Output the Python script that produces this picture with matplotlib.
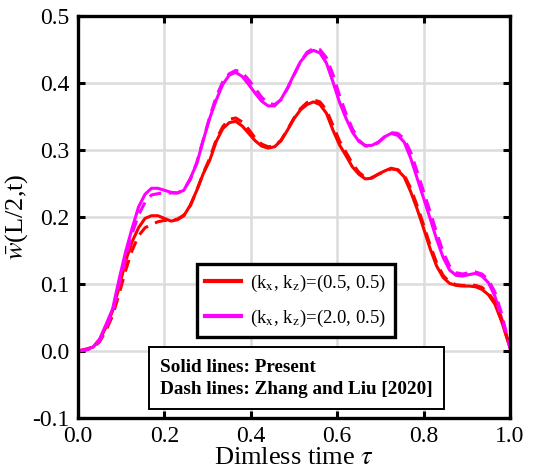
import numpy as np
import matplotlib
matplotlib.use('Agg')
import matplotlib.pyplot as plt

plt.rcParams['font.family'] = ['Liberation Serif', 'DejaVu Serif']
plt.rcParams['mathtext.fontset'] = 'stix'
plt.rcParams['axes.unicode_minus'] = False

# time grid (dimensionless)
tau = [0, 0.02, 0.035, 0.05, 0.065, 0.08, 0.095, 0.11, 0.125, 0.14, 0.155, 0.17,
       0.185, 0.2, 0.215, 0.23, 0.245, 0.26, 0.275, 0.29, 0.305, 0.32, 0.335, 0.35,
       0.365, 0.38, 0.395, 0.41, 0.425, 0.44, 0.455, 0.47, 0.485, 0.5, 0.515, 0.53,
       0.545, 0.56, 0.575, 0.59, 0.605, 0.62, 0.635, 0.65, 0.665, 0.68, 0.695, 0.71,
       0.725, 0.74, 0.755, 0.77, 0.785, 0.8, 0.815, 0.83, 0.845, 0.86, 0.875, 0.89,
       0.905, 0.92, 0.935, 0.95, 0.965, 0.98, 1.0]

# present, kx=0.5
red_solid = [0.000, 0.003, 0.006, 0.017, 0.036, 0.060, 0.095, 0.134, 0.163, 0.184, 0.198, 0.202,
             0.202, 0.198, 0.194, 0.196, 0.202, 0.218, 0.240, 0.265, 0.285, 0.313, 0.332, 0.341,
             0.343, 0.336, 0.325, 0.314, 0.306, 0.303, 0.305, 0.314, 0.330, 0.347, 0.360, 0.368,
             0.372, 0.368, 0.355, 0.330, 0.308, 0.292, 0.275, 0.264, 0.257, 0.258, 0.264, 0.269,
             0.273, 0.270, 0.260, 0.238, 0.212, 0.183, 0.153, 0.127, 0.110, 0.101, 0.098, 0.097,
             0.097, 0.096, 0.092, 0.084, 0.070, 0.045, 0.005]
# present, kx=2.0
mag_solid = [0.000, 0.003, 0.006, 0.018, 0.040, 0.063, 0.107, 0.148, 0.183, 0.215, 0.234, 0.243,
             0.243, 0.240, 0.237, 0.236, 0.240, 0.258, 0.280, 0.315, 0.348, 0.375, 0.398, 0.412,
             0.416, 0.410, 0.398, 0.385, 0.373, 0.366, 0.366, 0.376, 0.393, 0.413, 0.432, 0.444,
             0.449, 0.445, 0.430, 0.402, 0.372, 0.348, 0.327, 0.313, 0.307, 0.307, 0.312, 0.320,
             0.325, 0.322, 0.312, 0.288, 0.258, 0.228, 0.198, 0.167, 0.140, 0.121, 0.113, 0.112,
             0.114, 0.116, 0.112, 0.102, 0.082, 0.050, 0.005]
# Zhang and Liu [2020]
red_dash = [0.000, 0.002, 0.005, 0.014, 0.031, 0.053, 0.085, 0.120, 0.150, 0.172, 0.184, 0.189,
            0.193, 0.195, 0.195, 0.197, 0.203, 0.217, 0.240, 0.266, 0.288, 0.316, 0.335, 0.346,
            0.348, 0.342, 0.331, 0.318, 0.309, 0.305, 0.306, 0.315, 0.331, 0.348, 0.362, 0.371,
            0.375, 0.372, 0.360, 0.337, 0.314, 0.297, 0.280, 0.267, 0.259, 0.259, 0.264, 0.268,
            0.272, 0.271, 0.263, 0.243, 0.217, 0.188, 0.158, 0.132, 0.113, 0.103, 0.099, 0.098,
            0.098, 0.098, 0.095, 0.087, 0.073, 0.048, 0.005]
mag_dash = [0.000, 0.002, 0.005, 0.015, 0.035, 0.058, 0.100, 0.138, 0.175, 0.203, 0.222, 0.233,
            0.235, 0.236, 0.236, 0.236, 0.241, 0.256, 0.282, 0.316, 0.350, 0.380, 0.402, 0.414,
            0.419, 0.416, 0.405, 0.392, 0.379, 0.370, 0.368, 0.375, 0.392, 0.412, 0.432, 0.446,
            0.452, 0.450, 0.438, 0.413, 0.382, 0.355, 0.332, 0.315, 0.306, 0.306, 0.311, 0.320,
            0.326, 0.325, 0.317, 0.297, 0.268, 0.238, 0.208, 0.177, 0.148, 0.127, 0.117, 0.115,
            0.117, 0.118, 0.115, 0.106, 0.088, 0.057, 0.005]

labels = [r'(k$_\mathrm{x}$, k$_\mathrm{z}$)=(0.5, 0.5)',
          r'(k$_\mathrm{x}$, k$_\mathrm{z}$)=(2.0, 0.5)']

fig = plt.figure(figsize=(5.42, 4.75), dpi=100)
ax = fig.add_axes([0.144, 0.12, 0.797, 0.846])

ax.plot(tau, red_solid, color='#ff0000', lw=2.2, label=labels[0])
ax.plot(tau, mag_solid, color='#ff00ff', lw=2.2, label=labels[1])
ax.plot(tau, red_dash, color='#ff0000', lw=2.2, ls=(0, (4, 2.5)))
ax.plot(tau, mag_dash, color='#ff00ff', lw=2.2, ls=(0, (4, 2.5)))

ax.set_xlim(0, 1)
ax.set_ylim(-0.1, 0.5)
ax.set_xticks(np.arange(0, 1.01, 0.2))
ax.set_yticks(np.arange(-0.1, 0.51, 0.1))
ax.xaxis.set_major_formatter(matplotlib.ticker.FormatStrFormatter('%.1f'))
ax.yaxis.set_major_formatter(matplotlib.ticker.FormatStrFormatter('%.1f'))
ax.grid(True, color='#dcdcdc', lw=1.8)
ax.set_axisbelow(True)
ax.tick_params(direction='in', length=5, width=2.2, top=True, right=True,
               labelsize=17, pad=6)
for s in ax.spines.values():
    s.set_linewidth(2.4)

ax.set_xlabel(r'Dimless time $\tau$', fontsize=19, labelpad=0)
ax.set_ylabel(r'$\bar{w}$(L/2,t)', fontsize=19, labelpad=2)

leg = ax.legend(loc='upper left', bbox_to_anchor=(0.275, 0.383), borderaxespad=0,
                fontsize=13.5, fancybox=False, framealpha=1, edgecolor='black',
                handlelength=1.9, handletextpad=0.5, borderpad=0.45, labelspacing=0.75)
leg.get_frame().set_linewidth(2.4)
for ln in leg.get_lines():
    ln.set_linewidth(3)

ax.text(0.19, 0.099, 'Solid lines: Present\nDash lines: Zhang and Liu [2020]',
        transform=ax.transAxes, ha='left', va='center', fontsize=13.8, fontweight='bold',
        linespacing=1.4,
        bbox=dict(boxstyle='square,pad=0.6', fc='white', ec='black', lw=1.4))

fig.savefig('out.png', dpi=100)
